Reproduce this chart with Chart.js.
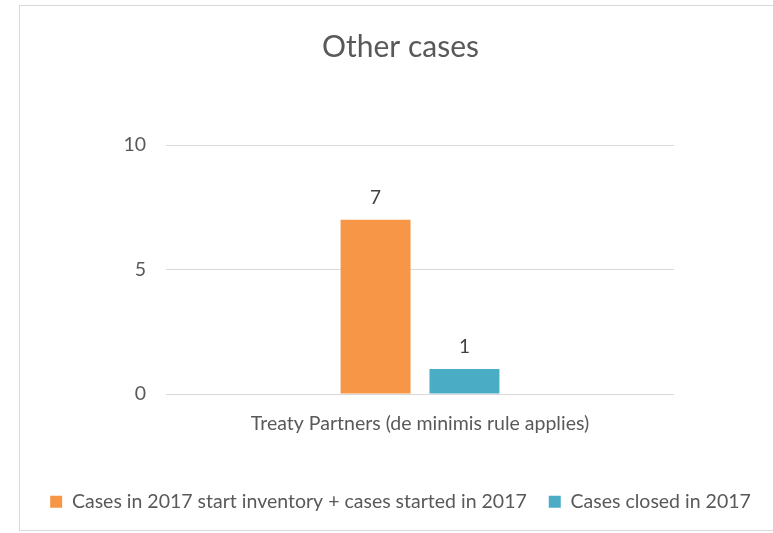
<!DOCTYPE html>
<html>
<head>
<meta charset="utf-8">
<script src="https://cdn.jsdelivr.net/npm/chart.js@4/dist/chart.umd.min.js"></script>
<style>
  html, body { margin: 0; padding: 0; background: #fff; }
  #wrap { position: relative; width: 773px; height: 533px; overflow: hidden; }
  #frame { position: absolute; left: 19px; top: 5px; width: 780px; height: 526px; border: 1px solid #d9d9d9; box-sizing: border-box; }
  canvas { position: absolute; left: 0; top: 0; }
</style>
</head>
<body>
<div id="wrap">
  <div id="frame"></div>
  <canvas id="c" width="773" height="533"></canvas>
</div>
<script>
const categories = ["Treaty Partners (de minimis rule applies)"];
const seriesNames = ["Cases in 2017 start inventory + cases started in 2017", "Cases closed in 2017"];
const startedValues = [7];
const closedValues = [1];
const yTicks = [0, 5, 10];
const chartTitle = "Other cases";

const FONT = "Lato, 'Open Sans', sans-serif";
const TXT = "#595959";

const valueLabels = {
  id: 'valueLabels',
  afterDatasetsDraw(chart) {
    const ctx = chart.ctx;
    ctx.save();
    ctx.font = "19px " + FONT;
    ctx.fillStyle = "#404040";
    ctx.textAlign = "center";
    ctx.textBaseline = "middle";
    chart.data.datasets.forEach((ds, i) => {
      const meta = chart.getDatasetMeta(i);
      meta.data.forEach((bar, j) => {
        ctx.fillText(String(ds.data[j]), bar.x, bar.y - 22);
      });
    });
    ctx.restore();
  }
};

new Chart(document.getElementById('c'), {
  type: 'bar',
  data: {
    labels: categories,
    datasets: [
      { label: seriesNames[0], data: startedValues, backgroundColor: '#F79646' },
      { label: seriesNames[1], data: closedValues, backgroundColor: '#4BACC6' }
    ]
  },
  options: {
    responsive: false,
    animation: false,
    devicePixelRatio: 1,
    layout: { padding: { left: 28, right: 0, top: 0, bottom: 11.5 } },
    datasets: { bar: { categoryPercentage: 0.35, barPercentage: 0.787 } },
    scales: {
      x: {
        grid: { display: false },
        border: { display: false },
        ticks: { color: TXT, font: { family: FONT, size: 19.5 }, padding: 10 },
        afterFit(scale) { scale.height = 76; }
      },
      y: {
        min: 0, max: 10,
        afterBuildTicks(scale) { scale.ticks = yTicks.map(v => ({ value: v })); },
        grid: { color: '#d9d9d9', lineWidth: 1, drawTicks: false },
        border: { display: false },
        ticks: { color: TXT, font: { family: FONT, size: 19.5 }, padding: 20 },
        afterFit(scale) { scale.width = 138; }
      },
      yR: {
        type: 'linear', position: 'right',
        grid: { display: false }, border: { display: false },
        ticks: { display: false },
        afterFit(scale) { scale.width = 99; }
      }
    },
    plugins: {
      title: {
        display: true, text: chartTitle, color: TXT,
        font: { family: FONT, size: 30, weight: 'normal' },
        padding: { top: 29, bottom: 80 }
      },
      legend: {
        position: 'bottom',
        labels: { color: TXT, font: { family: FONT, size: 19.5 }, boxWidth: 12, boxHeight: 12, padding: 22 }
      },
      tooltip: { enabled: false }
    }
  },
  plugins: [valueLabels]
});
</script>
</body>
</html>
